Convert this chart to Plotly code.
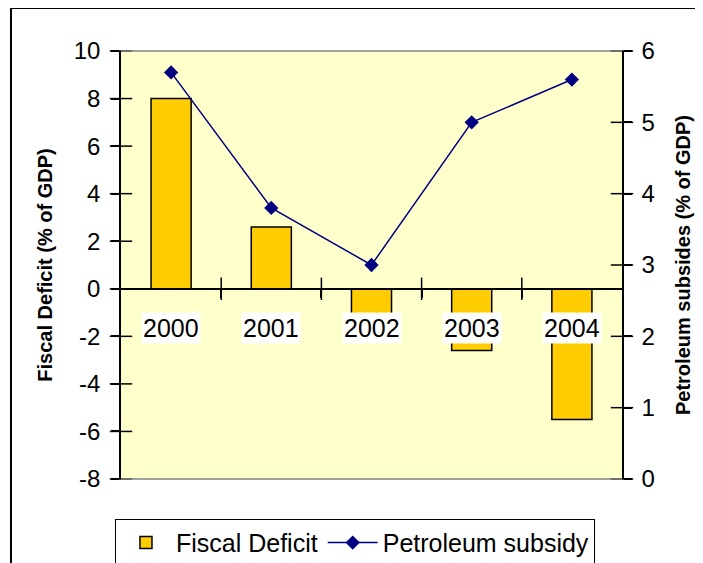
import plotly.graph_objects as go

years = ["2000", "2001", "2002", "2003", "2004"]
fiscal_deficit = [8.0, 2.6, -1.2, -2.6, -5.5]
petroleum_subsidy = [5.7, 3.8, 3.0, 5.0, 5.6]
left_ticks = [-8, -6, -4, -2, 0, 2, 4, 6, 8, 10]
right_ticks = [0, 1, 2, 3, 4, 5, 6]

FONT = "Arial, Liberation Sans, sans-serif"
LABEL_Y = -1.65  # vertical position of the category labels (left-axis units)

pos = list(range(len(years)))           # category slots
bounds = [p + 0.5 for p in pos[:-1]]    # boundaries between categories
x_lo, x_hi = pos[0] - 0.5, pos[-1] + 0.5

fig = go.Figure()
fig.add_trace(go.Bar(
    x=pos, y=fiscal_deficit, name="Fiscal Deficit",
    marker=dict(color="#FFCC00", line=dict(color="#000000", width=1.5)),
    width=0.4, yaxis="y",
))
fig.add_trace(go.Scatter(
    x=pos, y=petroleum_subsidy, name="Petroleum subsidy",
    mode="lines+markers", yaxis="y2",
    line=dict(color="#000080", width=1.5),
    marker=dict(symbol="diamond", size=11, color="#000080"),
))

# Excel-style crossing tick marks, drawn as line markers on the axes
tick_mark = dict(mode="markers", showlegend=False, hoverinfo="skip", cliponaxis=False)
fig.add_trace(go.Scatter(x=[x_lo] * len(left_ticks), y=left_ticks, yaxis="y",
                         marker=dict(symbol="line-ew", size=16,
                                     line=dict(color="black", width=1.5)), **tick_mark))
fig.add_trace(go.Scatter(x=[x_hi] * len(right_ticks), y=right_ticks, yaxis="y2",
                         marker=dict(symbol="line-ew", size=16,
                                     line=dict(color="black", width=1.5)), **tick_mark))
fig.add_trace(go.Scatter(x=bounds, y=[0] * len(bounds), yaxis="y",
                         marker=dict(symbol="line-ns", size=16,
                                     line=dict(color="black", width=1.5)), **tick_mark))

# category labels with white background
for p, yr in zip(pos, years):
    fig.add_annotation(x=p, y=LABEL_Y, xref="x", yref="y", text=yr,
                       showarrow=False, bgcolor="white",
                       font=dict(family=FONT, size=25, color="black"))

axis_common = dict(showgrid=False, zeroline=False, automargin=False)
tick_style = dict(tickcolor="black", tickwidth=1.5, ticklen=8)

fig.update_layout(
    width=703, height=563,
    margin=dict(l=113, r=89, t=43, b=92, autoexpand=False),
    paper_bgcolor="white", plot_bgcolor="#FFFFCC",
    font=dict(family=FONT, color="black"),
    barmode="overlay",
    xaxis=dict(type="linear", range=[x_lo, x_hi], tickvals=bounds,
               showticklabels=False,
               showline=True, linecolor="black", linewidth=1.5,
               ticks="outside",
               anchor="free", position=8/18, **tick_style, **axis_common),
    yaxis=dict(range=[-8, 10], tickvals=left_ticks,
               ticktext=[str(v) for v in left_ticks], showline=True,
               linecolor="black", linewidth=1.5, ticks="outside",
               tickfont=dict(size=24), ticklabelstandoff=6,
               title=dict(text="<b>Fiscal Deficit (% of GDP)</b>",
                          font=dict(size=20), standoff=16),
               **tick_style, **axis_common),
    yaxis2=dict(range=[0, 6], tickvals=right_ticks,
                ticktext=[str(v) for v in right_ticks], overlaying="y", side="right",
                anchor="x", showline=True, linecolor="black", linewidth=1.5,
                ticks="outside",
                tickfont=dict(size=24), ticklabelstandoff=5,
                title=dict(text="<b>Petroleum subsides (% of GDP)</b>",
                           font=dict(size=20), standoff=22),
                **tick_style, **axis_common),
    legend=dict(orientation="h", x=0.467, xanchor="center", y=-0.093, yanchor="top",
                bgcolor="white", bordercolor="black", borderwidth=1,
                font=dict(size=25), itemwidth=50, tracegroupgap=0),
    showlegend=True,
)

# plot area top / bottom grey borders
fig.add_shape(type="line", xref="paper", yref="paper", x0=0, x1=1, y0=1, y1=1,
              line=dict(color="#808080", width=1.5))
fig.add_shape(type="line", xref="paper", yref="paper", x0=0, x1=1, y0=0, y1=0,
              line=dict(color="#808080", width=1.5))
# outer chart border
fig.add_shape(type="rect", xref="paper", yref="paper",
              x0=-0.2196, x1=1.18, y0=-0.22, y1=1.1005,
              line=dict(color="black", width=2), layer="below")

fig.write_html("out.html")
